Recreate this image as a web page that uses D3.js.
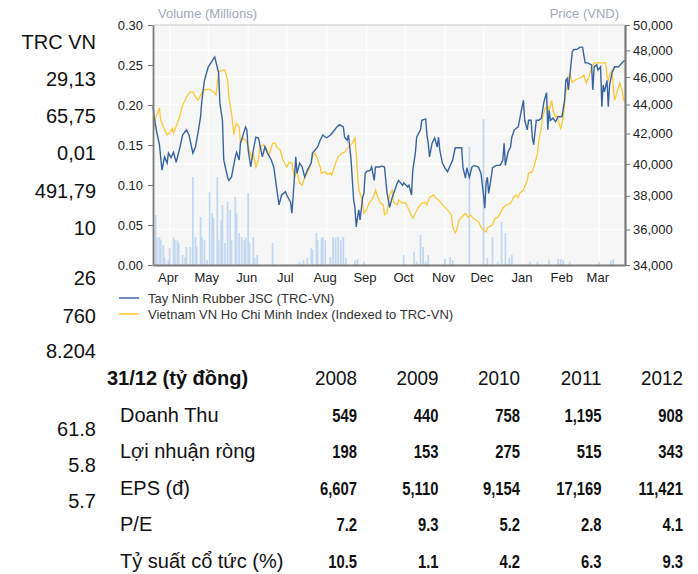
<!DOCTYPE html>
<html>
<head>
<meta charset="utf-8">
<script src="https://cdnjs.cloudflare.com/ajax/libs/d3/7.8.5/d3.min.js"></script>
<style>
  body { margin: 0; background: #fff; }
  svg { font-family: "Liberation Sans", Arial, sans-serif; }
</style>
</head>
<body>
<svg></svg>
<script>
// price of Tay Ninh Rubber (VND)
var trcPrice = [
  ["2012-03-19",43850],["2012-03-20",43050],["2012-03-22",42050],["2012-03-24",41250],["2012-03-26",39600],["2012-03-28",40450],["2012-03-30",40050],["2012-03-31",40700],
  ["2012-04-02",40400],["2012-04-04",40750],["2012-04-06",40100],["2012-04-09",41100],["2012-04-11",41900],["2012-04-14",42250],["2012-04-16",41900],["2012-04-19",40700],["2012-04-21",41100],["2012-04-23",42050],["2012-04-25",43150],["2012-04-26",44300],["2012-04-28",45750],
  ["2012-05-01",46750],["2012-05-03",47050],["2012-05-06",47500],["2012-05-09",46300],["2012-05-10",44100],["2012-05-12",42900],["2012-05-13",40250],["2012-05-16",39150],["2012-05-17",38950],["2012-05-19",39150],["2012-05-22",40450],["2012-05-23",40750],["2012-05-25",40250],["2012-05-26",41350],["2012-05-30",42450],["2012-05-31",42250],
  ["2012-06-01",40900],["2012-06-03",39800],["2012-06-05",40900],["2012-06-07",41750],["2012-06-09",41700],["2012-06-12",40450],["2012-06-14",41100],["2012-06-16",40700],["2012-06-19",40250],["2012-06-21",39750],["2012-06-23",38550],["2012-06-25",37450],["2012-06-27",38050],["2012-06-30",38250],
  ["2012-07-01",38050],["2012-07-04",37600],["2012-07-05",36950],["2012-07-07",39150],["2012-07-08",40450],["2012-07-09",39400],["2012-07-11",40050],["2012-07-13",39800],["2012-07-15",39150],["2012-07-17",39600],["2012-07-20",40050],["2012-07-21",40700],["2012-07-25",41100],["2012-07-27",41550],["2012-07-29",41900],
  ["2012-08-01",41700],["2012-08-04",41900],["2012-08-06",42100],["2012-08-09",42450],["2012-08-11",42600],["2012-08-14",42450],["2012-08-15",41750],["2012-08-17",41550],["2012-08-18",41900],["2012-08-20",40250],["2012-08-22",37750],["2012-08-23",37300],["2012-08-24",36150],["2012-08-25",36700],["2012-08-26",37150],["2012-08-27",36550],["2012-08-29",37900],["2012-08-30",38150],["2012-08-31",39400],
  ["2012-09-01",39500],["2012-09-04",39600],["2012-09-05",39800],["2012-09-07",38950],["2012-09-08",39800],["2012-09-11",39800],["2012-09-13",39850],["2012-09-15",39800],["2012-09-17",38150],["2012-09-19",37300],["2012-09-21",37900],["2012-09-25",38800],["2012-09-26",38950],["2012-09-29",38650],["2012-09-30",38800],
  ["2012-10-03",38550],["2012-10-04",38650],["2012-10-06",38050],["2012-10-07",39600],["2012-10-09",40700],["2012-10-10",41750],["2012-10-13",42250],["2012-10-14",42900],["2012-10-17",43000],["2012-10-18",41900],["2012-10-19",41350],["2012-10-20",40450],["2012-10-22",41350],["2012-10-24",41700],["2012-10-26",41100],["2012-10-27",41750],["2012-10-28",40900],["2012-10-30",40050],
  ["2012-11-01",39750],["2012-11-03",39500],["2012-11-07",40250],["2012-11-09",41050],["2012-11-12",41050],["2012-11-14",41050],["2012-11-15",39750],["2012-11-17",39100],["2012-11-18",39750],["2012-11-20",39150],["2012-11-22",39800],["2012-11-24",39900],["2012-11-27",39800],["2012-11-29",39400],
  ["2012-12-01",38050],["2012-12-02",37250],["2012-12-03",38800],["2012-12-04",39150],["2012-12-05",38150],["2012-12-07",39150],["2012-12-08",39750],["2012-12-11",39900],["2012-12-14",39900],["2012-12-16",40250],["2012-12-17",41350],["2012-12-18",39900],["2012-12-20",40750],["2012-12-22",41100],["2012-12-23",41750],["2012-12-25",42250],["2012-12-28",42450],["2012-12-30",43400],
  ["2013-01-01",44300],["2013-01-02",42900],["2013-01-04",42250],["2013-01-05",42900],["2013-01-07",42900],["2013-01-08",41700],["2013-01-09",41250],["2013-01-11",42900],["2013-01-13",42900],["2013-01-15",43050],["2013-01-17",44200],["2013-01-19",44850],["2013-01-20",42250],["2013-01-21",43600],["2013-01-22",42900],["2013-01-24",43050],["2013-01-26",42800],["2013-01-28",43150],["2013-01-31",43150],
  ["2013-02-02",44300],["2013-02-03",45750],["2013-02-04",45900],["2013-02-05",45050],["2013-02-06",46000],["2013-02-08",47900],["2013-02-09",48050],["2013-02-12",48100],["2013-02-14",48250],["2013-02-16",48250],["2013-02-18",47050],["2013-02-20",47050],["2013-02-23",46900],["2013-02-24",45050],["2013-02-25",46750],["2013-02-27",46900],["2013-02-28",46500],
  ["2013-03-02",46750],["2013-03-03",43850],["2013-03-04",45400],["2013-03-05",44900],["2013-03-07",45750],["2013-03-08",43850],["2013-03-09",45400],["2013-03-11",46350],["2013-03-13",46750],["2013-03-16",46750],["2013-03-19",47100],["2013-03-21",47250]
];

// VN-Index, indexed to TRC-VN
var vniPrice = [
  ["2012-03-20",42450],["2012-03-21",43050],["2012-03-24",43750],["2012-03-25",42900],["2012-03-28",42250],["2012-03-30",41900],
  ["2012-04-01",42050],["2012-04-03",42350],["2012-04-04",42050],["2012-04-07",42700],["2012-04-09",43250],["2012-04-11",43950],["2012-04-13",44300],["2012-04-14",44550],["2012-04-17",44900],["2012-04-19",44900],["2012-04-21",44550],["2012-04-23",44300],["2012-04-26",44850],["2012-04-28",45050],
  ["2012-05-02",45100],["2012-05-05",44900],["2012-05-07",44700],["2012-05-09",46350],["2012-05-12",46500],["2012-05-14",46500],["2012-05-16",45750],["2012-05-17",44550],["2012-05-19",43400],["2012-05-21",41900],["2012-05-22",42450],["2012-05-23",42700],["2012-05-25",42450],["2012-05-26",41350],["2012-05-28",41700],["2012-05-30",41550],["2012-05-31",41350],
  ["2012-06-02",40900],["2012-06-04",40250],["2012-06-05",40700],["2012-06-07",39800],["2012-06-09",40250],["2012-06-10",41100],["2012-06-13",41250],["2012-06-15",41050],["2012-06-17",40550],["2012-06-20",41350],["2012-06-22",41350],["2012-06-23",41100],["2012-06-26",40900],["2012-06-28",40250],
  ["2012-07-01",39800],["2012-07-03",40100],["2012-07-05",40050],["2012-07-07",39150],["2012-07-09",39500],["2012-07-11",38800],["2012-07-13",38650],["2012-07-15",39150],["2012-07-17",39400],["2012-07-19",39800],["2012-07-21",40450],["2012-07-23",40700],["2012-07-25",40250],["2012-07-27",39800],["2012-07-28",39400],["2012-07-31",39500],
  ["2012-08-01",39350],["2012-08-04",39400],["2012-08-05",39300],["2012-08-08",40050],["2012-08-10",40450],["2012-08-13",40700],["2012-08-15",40750],["2012-08-18",41100],["2012-08-21",41350],["2012-08-23",41700],["2012-08-24",40700],["2012-08-25",39400],["2012-08-26",38350],["2012-08-28",37900],["2012-08-29",37600],["2012-08-30",36950],
  ["2012-09-01",37150],["2012-09-03",37550],["2012-09-05",37750],["2012-09-07",38050],["2012-09-08",38350],["2012-09-10",37850],["2012-09-12",37550],["2012-09-14",37450],["2012-09-15",36850],["2012-09-17",37000],["2012-09-19",38050],["2012-09-21",38350],["2012-09-22",37600],["2012-09-25",37450],["2012-09-26",37750],["2012-09-29",37550],
  ["2012-10-01",37600],["2012-10-03",37300],["2012-10-05",36950],["2012-10-07",36650],["2012-10-09",36950],["2012-10-11",37250],["2012-10-14",37550],["2012-10-17",37600],["2012-10-18",37450],["2012-10-20",37900],["2012-10-23",38050],["2012-10-25",37850],["2012-10-27",37750],["2012-10-30",37450],
  ["2012-11-01",37300],["2012-11-03",37150],["2012-11-06",36850],["2012-11-07",36150],["2012-11-09",35800],["2012-11-10",35950],["2012-11-12",36550],["2012-11-14",36700],["2012-11-17",36950],["2012-11-19",36700],["2012-11-21",36850],["2012-11-23",36650],["2012-11-25",36550],["2012-11-27",36450],["2012-11-29",36150],
  ["2012-12-01",35950],["2012-12-03",35850],["2012-12-04",36100],["2012-12-08",36250],["2012-12-10",36650],["2012-12-12",36700],["2012-12-14",36950],["2012-12-16",37250],["2012-12-19",37450],["2012-12-22",37550],["2012-12-24",37850],["2012-12-26",38050],["2012-12-28",37900],["2012-12-29",38150],
  ["2013-01-01",38350],["2013-01-04",38950],["2013-01-05",39400],["2013-01-08",39500],["2013-01-10",40050],["2013-01-12",40700],["2013-01-13",41550],["2013-01-15",42450],["2013-01-16",43150],["2013-01-18",43750],["2013-01-20",43850],["2013-01-21",43600],["2013-01-23",44300],["2013-01-24",43600],["2013-01-26",43150],["2013-01-27",43250],["2013-01-28",42900],["2013-01-30",42350],["2013-01-31",42700],
  ["2013-02-01",43150],["2013-02-03",44850],["2013-02-04",45250],["2013-02-05",45750],["2013-02-06",46300],["2013-02-08",45600],["2013-02-10",45750],["2013-02-13",45900],["2013-02-16",46000],["2013-02-17",46150],["2013-02-19",45550],["2013-02-21",46000],["2013-02-23",46750],["2013-02-25",47050],["2013-02-27",47050],
  ["2013-03-02",47050],["2013-03-04",47050],["2013-03-06",47050],["2013-03-07",46000],["2013-03-08",45750],["2013-03-09",46150],["2013-03-11",46500],["2013-03-12",45050],["2013-03-13",44300],["2013-03-16",45250],["2013-03-17",45550],["2013-03-19",44900],["2013-03-20",44300],["2013-03-21",44300]
];

// traded volume, millions of shares
var volume = [
  ["2012-03-21",0.0625],["2012-03-22",0.034],["2012-03-24",0.035],["2012-03-25",0.031],["2012-03-27",0.025],["2012-03-28",0.010],["2012-03-31",0.006],
  ["2012-04-01",0.021],["2012-04-04",0.034],["2012-04-05",0.031],["2012-04-07",0.031],["2012-04-08",0.0275],["2012-04-11",0.0125],["2012-04-13",0.010],["2012-04-14",0.0225],["2012-04-17",0.0225],["2012-04-19",0.110],["2012-04-21",0.035],["2012-04-22",0.0225],["2012-04-25",0.060],["2012-04-26",0.035],["2012-04-28",0.031],["2012-04-30",0.006],
  ["2012-05-02",0.091],["2012-05-04",0.065],["2012-05-05",0.059],["2012-05-08",0.110],["2012-05-09",0.031],["2012-05-11",0.056],["2012-05-12",0.075],["2012-05-14",0.0275],["2012-05-16",0.079],["2012-05-18",0.069],["2012-05-19",0.031],["2012-05-22",0.085],["2012-05-23",0.065],["2012-05-25",0.040],["2012-05-27",0.035],["2012-05-29",0.031],["2012-05-30",0.034],
  ["2012-06-01",0.090],["2012-06-02",0.0275],["2012-06-05",0.035],["2012-06-06",0.009],["2012-06-08",0.0125],["2012-06-20",0.0275],
  ["2012-07-11",0.004],["2012-07-14",0.006],["2012-07-17",0.009],["2012-07-20",0.021],["2012-07-21",0.019],["2012-07-24",0.040],["2012-07-25",0.031],["2012-07-28",0.034],["2012-07-29",0.035],["2012-07-31",0.031],
  ["2012-08-04",0.010],["2012-08-06",0.035],["2012-08-08",0.034],["2012-08-10",0.035],["2012-08-12",0.031],["2012-08-14",0.035],["2012-08-16",0.009],["2012-08-23",0.006],["2012-08-25",0.0075],["2012-08-30",0.004],
  ["2012-09-30",0.0125],["2012-10-08",0.016],["2012-10-10",0.004],["2012-10-13",0.0375],["2012-10-15",0.0225],["2012-10-17",0.004],["2012-10-19",0.0125],
  ["2012-11-01",0.0075],["2012-11-05",0.010],["2012-11-07",0.006],["2012-11-20",0.1475],
  ["2012-12-01",0.1825],["2012-12-04",0.009],["2012-12-08",0.035],["2012-12-12",0.004],["2012-12-15",0.054],["2012-12-18",0.040],["2012-12-21",0.009],["2012-12-23",0.0125],
  ["2013-01-06",0.004],["2013-01-12",0.004],["2013-01-21",0.006],["2013-01-28",0.0075],["2013-01-30",0.0075],["2013-02-01",0.006],["2013-02-06",0.004],
  ["2013-03-01",0.004],["2013-03-10",0.006],["2013-03-12",0.0075]
];

var volTicks = [0, 0.05, 0.10, 0.15, 0.20, 0.25, 0.30];
var priceTicks = [34000, 36000, 38000, 40000, 42000, 44000, 46000, 48000, 50000];
var seriesNames = ["Tay Ninh Rubber JSC (TRC-VN)", "Vietnam VN Ho Chi Minh Index (Indexed to TRC-VN)"];

// left column of loose figures
var sideLabels = ["TRC VN", "29,13", "65,75", "0,01", "491,79", "10", "26", "760", "8.204", "61.8", "5.8", "5.7"];

// financial table
var years = ["2008", "2009", "2010", "2011", "2012"];
var rowNames = ["Doanh Thu", "Lợi nhuận ròng", "EPS (đ)", "P/E", "Tỷ suất cổ tức (%)"];
var revenue = [549, 440, 758, 1195, 908];
var netProfit = [198, 153, 275, 515, 343];
var eps = [6607, 5110, 9154, 17169, 11421];
var pe = [7.2, 9.3, 5.2, 2.8, 4.1];
var dividendYield = [10.5, 1.1, 4.2, 6.3, 9.3];

//Defining the Margins
var margin = { top: 25, left: 153 },
    width = 472,
    height = 240;

var parse = d3.timeParse("%Y-%m-%d");
function toPoints(arr) { return arr.map(function(d) { return { date: parse(d[0]), value: d[1] }; }); }
var trc = toPoints(trcPrice), vni = toPoints(vniPrice), vol = toPoints(volume);

var svg = d3.select("svg")
    .attr("width", 698)
    .attr("height", 574);

var xScale = d3.scaleTime()
    .domain([parse("2012-03-19"), parse("2013-03-21")])
    .range([0, width]);
var yVol = d3.scaleLinear().domain([0, 0.3]).range([height, 0]);
var yPrice = d3.scaleLog().domain([34000, 50000]).range([height, 0]);

var g = svg.append("g")
    .attr("transform", "translate(" + margin.left + "," + margin.top + ")");

// plot background + grid
g.append("rect").attr("width", width).attr("height", height).attr("fill", "#f6f6f6");
g.selectAll(".hgrid").data(priceTicks.slice(1, -1)).enter().append("line")
    .attr("x1", 0).attr("x2", width)
    .attr("y1", function(d) { return yPrice(d); }).attr("y2", function(d) { return yPrice(d); })
    .attr("stroke", "#fff").attr("stroke-width", 1.2);
var months = d3.timeMonth.range(xScale.domain()[0], xScale.domain()[1]);
g.selectAll(".vgrid").data(months).enter().append("line")
    .attr("x1", function(d) { return xScale(d); }).attr("x2", function(d) { return xScale(d); })
    .attr("y1", 0).attr("y2", height)
    .attr("stroke", "#fff").attr("stroke-width", 1.2);
g.append("line").attr("x1", 0).attr("x2", width).attr("y1", 0).attr("y2", 0)
    .attr("stroke", "#c8c8c8");

// volume bars
g.selectAll(".bar").data(vol).enter().append("rect")
    .attr("x", function(d) { return xScale(d.date) - 0.9; })
    .attr("width", 1.8)
    .attr("y", function(d) { return yVol(d.value); })
    .attr("height", function(d) { return height - yVol(d.value); })
    .attr("fill", "#c2d8f0");

var line = d3.line()
    .x(function(d) { return xScale(d.date); })
    .y(function(d) { return yPrice(d.value); });

g.append("path").datum(vni).attr("d", line)
    .attr("fill", "none").attr("stroke", "#fcc934").attr("stroke-width", 1.3);
g.append("path").datum(trc).attr("d", line)
    .attr("fill", "none").attr("stroke", "#3763a3").attr("stroke-width", 1.4);

// Axes
var yAxisL = d3.axisLeft(yVol).tickValues(volTicks).tickFormat(d3.format(".2f"))
    .tickSize(5).tickSizeOuter(0).tickPadding(5);
var yAxisR = d3.axisRight(yPrice).tickValues(priceTicks).tickFormat(d3.format(","))
    .tickSize(5).tickSizeOuter(0).tickPadding(3);
var xAxis = d3.axisBottom(xScale).tickValues(months).tickFormat(d3.timeFormat("%b"))
    .tickSize(0).tickPadding(8);

var axL = g.append("g").call(yAxisL);
var axR = g.append("g").attr("transform", "translate(" + width + ",0)").call(yAxisR);
var axB = g.append("g").attr("transform", "translate(0," + height + ")").call(xAxis);

[axL, axR, axB].forEach(function(a) {
  a.selectAll("text").attr("font-size", 13).attr("fill", "#222").attr("font-family", "Liberation Sans, Arial, sans-serif");
  a.selectAll("line").attr("stroke", "#777");
  a.select(".domain").attr("stroke", "#7a7a7a").attr("stroke-width", 1.8);
});
axR.select(".domain").attr("stroke-width", 2.2);
axB.selectAll("text").attr("dx", -2);

// axis titles
svg.append("text").attr("x", 158).attr("y", 18).attr("font-size", 13).attr("fill", "#a2a8b7")
    .text("Volume (Millions)");
svg.append("text").attr("x", 619).attr("y", 18).attr("font-size", 13).attr("fill", "#a2a8b7")
    .attr("text-anchor", "end").text("Price (VND)");

// legend
var legendColors = ["#6f90c2", "#ffd55a"];
var legend = svg.selectAll(".legend").data(seriesNames).enter().append("g")
    .attr("transform", function(d, i) { return "translate(119," + (298 + i * 16) + ")"; });
legend.append("line").attr("x1", 0).attr("x2", 20)
    .attr("stroke", function(d, i) { return legendColors[i]; }).attr("stroke-width", 2);
legend.append("text").attr("x", 29).attr("y", 4.5).attr("font-size", 13).attr("fill", "#333")
    .text(function(d) { return d; });

// left column
var sideY = [49, 86, 123, 160, 198, 235, 285, 323, 358, 436, 472, 508];
svg.selectAll(".side").data(sideLabels).enter().append("text")
    .attr("x", 96).attr("y", function(d, i) { return sideY[i]; })
    .attr("text-anchor", "end").attr("font-size", 20).attr("fill", "#111")
    .text(function(d) { return d; });

// table
var colX = d3.scalePoint().domain(years).range([357, 683]);
var rowY = function(i) { return 385 + i * 36.5; };

svg.append("text").attr("x", 107).attr("y", rowY(0)).attr("font-size", 20)
    .attr("font-weight", "bold").attr("fill", "#111").text("31/12 (tỷ đồng)");

svg.selectAll(".year").data(years).enter().append("text")
    .attr("transform", function(d) { return "translate(" + colX(d) + "," + rowY(0) + ") scale(0.9,1)"; })
    .attr("text-anchor", "end").attr("font-size", 21).attr("fill", "#111")
    .text(function(d) { return d; });

var intFmt = d3.format(","), decFmt = d3.format(".1f");
var rows = [
  { values: revenue, fmt: intFmt },
  { values: netProfit, fmt: intFmt },
  { values: eps, fmt: intFmt },
  { values: pe, fmt: decFmt },
  { values: dividendYield, fmt: decFmt }
];

rows.forEach(function(r, i) {
  var y = rowY(i + 1);
  svg.append("text").attr("x", 120).attr("y", y).attr("font-size", 20).attr("fill", "#111")
      .text(rowNames[i]);
  svg.selectAll(".cell" + i).data(r.values).enter().append("text")
      .attr("transform", function(d, j) { return "translate(" + colX(years[j]) + "," + y + ") scale(0.8,1)"; })
      .attr("text-anchor", "end").attr("font-size", 18.5).attr("font-weight", "bold").attr("fill", "#111")
      .text(function(d) { return r.fmt(d); });
});
</script>
</body>
</html>
